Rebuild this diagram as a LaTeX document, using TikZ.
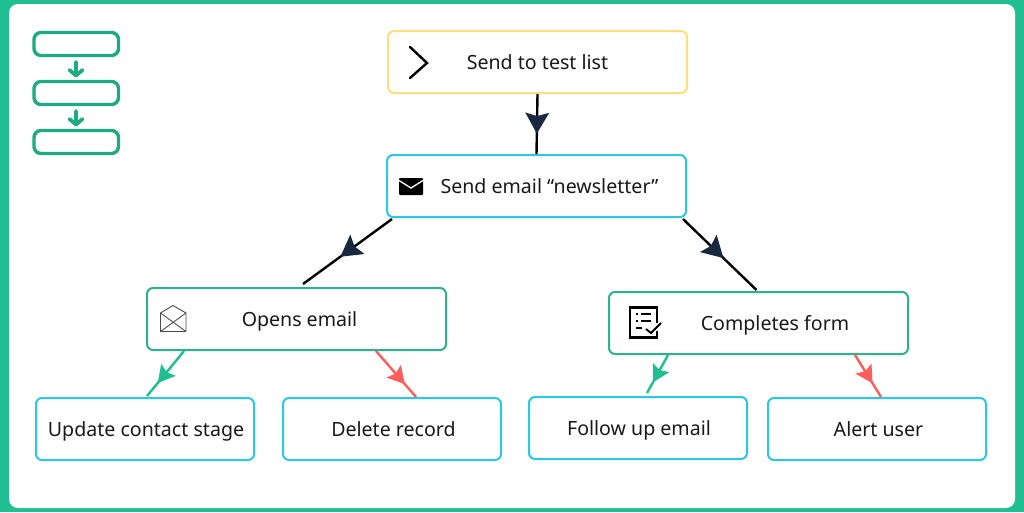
\documentclass[tikz,border=0pt]{standalone}
\usepackage{fontspec}
\setmainfont{Noto Sans}
\usetikzlibrary{arrows.meta,decorations.markings}
\definecolor{bggreen}{RGB}{31,191,146}
\definecolor{icongreen}{RGB}{30,170,130}
\definecolor{boxgreen}{RGB}{47,176,143}
\definecolor{boxcyan}{RGB}{43,199,230}
\definecolor{boxyellow}{RGB}{255,222,125}
\definecolor{arrownavy}{RGB}{24,40,62}
\definecolor{arrowred}{RGB}{255,92,92}
\tikzset{
  flowbox/.style={draw,line width=2pt,rounded corners=6pt,minimum height=62pt,text=black!90,text height=17pt,text depth=3pt,font=\fontsize{19.6}{24}\selectfont},
  widebox/.style={flowbox,minimum width=299pt},
  leafbox/.style={flowbox,minimum width=218pt,draw=boxcyan},
  midarrow/.style={black,line width=2.4pt,postaction={decorate},decoration={markings,mark=at position #1 with {\arrow{Stealth[length=21pt,width=24pt,inset=3.5pt,color=arrownavy,line width=0pt]}}}},
  sidearrow/.style 2 args={#2,line width=2.4pt,postaction={decorate},decoration={markings,mark=at position #1 with {\arrow{Stealth[length=17pt,width=19pt,inset=3pt,color=#2,line width=0pt]}}}},
}
\begin{document}
\begin{tikzpicture}[x=1pt,y=1pt,yscale=-1,xscale=1]
\useasboundingbox (0,0) rectangle (1024,512);

%Background
\fill [bggreen] (0,0) rectangle (1024,512);
\fill [white,rounded corners=9pt] (9,4) rectangle (1015,508);

%Corner flow icon
\draw [icongreen,line width=3.4pt,rounded corners=7pt] (34,32.5) rectangle (118.5,55.5);
\draw [icongreen,line width=3.4pt,rounded corners=7pt] (34,81.5) rectangle (118.5,104.5);
\draw [icongreen,line width=3.4pt,rounded corners=7pt] (34,130.5) rectangle (118.5,153.5);
\draw [icongreen,line width=3.8pt,line cap=round,line join=round] (76,62) -- (76,75) (69.5,70) -- (76,75.5) -- (82.5,70);
\draw [icongreen,line width=3.8pt,line cap=round,line join=round] (76,111) -- (76,124) (69.5,119) -- (76,124.5) -- (82.5,119);

%Boxes
\node (testlist) [widebox,draw=boxyellow] at (537.5,62) {Send to test list};
\node (sendemail) [widebox,draw=boxcyan] at (536.5,186) {\hspace*{26pt}Send email “newsletter”};
\node (opens) [widebox,draw=boxgreen] at (296.5,319) {\hspace*{6pt}Opens email};
\node (completes) [widebox,draw=boxgreen] at (758.5,323) {\hspace*{33pt}Completes form};
\node (update) [leafbox] at (145,429) {\hspace*{2pt}Update contact stage};
\node (delete) [leafbox] at (392,429) {\hspace*{3pt}Delete record};
\node (followup) [leafbox] at (638,428) {\hspace*{2pt}Follow up email};
\node (alert) [leafbox] at (877,429) {\hspace*{3pt}Alert user};

%Connectors
\draw [midarrow=0.66] (testlist.south) -- (sendemail.north);
\draw [midarrow=0.58] ([xshift=6pt,yshift=1pt]sendemail.south west) -- ([xshift=6.5pt,yshift=-3pt]opens.north);
\draw [midarrow=0.55] ([xshift=-4pt,yshift=1pt]sendemail.south east) -- ([xshift=-2pt,yshift=-1pt]completes.north);
\draw [sidearrow={0.71}{bggreen}] ([xshift=38pt]opens.south west) -- ([xshift=2pt,yshift=-1pt]update.north);
\draw [sidearrow={0.72}{bggreen}] ([xshift=60pt]completes.south west) -- ([xshift=9pt,yshift=-3pt]followup.north);
\draw [sidearrow={0.72}{arrowred}] ([xshift=230pt]opens.south west) -- ([xshift=24pt]delete.north);
\draw [sidearrow={0.67}{arrowred}] ([xshift=247pt]completes.south west) -- ([xshift=4pt]alert.north);

%Chevron on the first box
\draw [black,line width=2.4pt,line cap=round,line join=miter] (410,47) -- (427,63) -- (410,78);
%Envelope on the send box
\fill [black,rounded corners=1pt] (399,178) rectangle (423,195);
\draw [white,line width=1.3pt] (399,180.5) -- (411,188) -- (423,180.5);
%Opened envelope
\draw [black!70,line width=0.9pt,line join=round] (160.5,313) -- (173,305.5) -- (186,313) -- (186,331.5) -- (160.5,331.5) -- cycle;
\draw [black!70,line width=0.9pt] (160.5,313) -- (186,331.5) (186,313) -- (160.5,331.5);
%Form with check mark
\draw [black,line width=2.2pt,line join=miter] (657,331) -- (657,337.5) -- (630,337.5) -- (630,307.5) -- (657,307.5) -- (657,323);
\draw [black,line width=1.9pt] (636,314) -- (638,314) (641,314) -- (651,314) (636,321) -- (638,321) (641,321) -- (651,321) (636,328) -- (642,328);
\draw [black,line width=1.9pt] (646,329) -- (651,333) -- (661,323);
\end{tikzpicture}
\end{document}
